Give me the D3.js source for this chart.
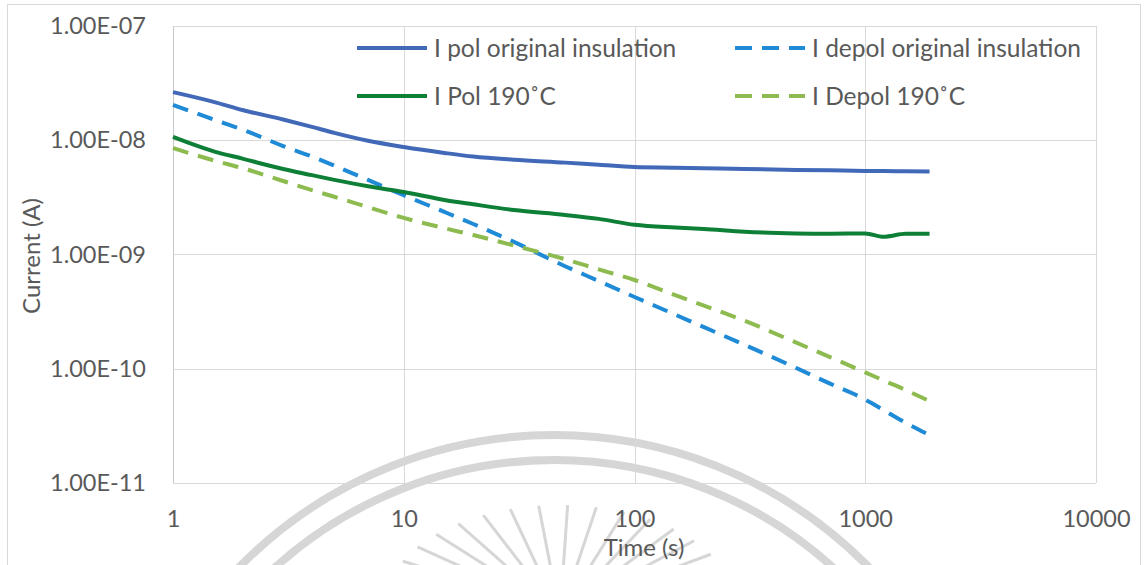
<!DOCTYPE html>
<html>
<head>
<meta charset="utf-8">
<script src="https://cdn.jsdelivr.net/npm/d3@7"></script>
<style>
  html, body { margin: 0; padding: 0; background: #fff; }
  svg { display: block; }
</style>
</head>
<body>
<div id="chart"></div>
<script>
// time axis (s) shared by all four series
const times = [1, 1.5, 2, 3, 4, 5, 7, 10, 15, 20, 30, 50, 70, 100, 150, 200, 300, 500, 700, 1000, 1200, 1500, 1900];

const polOrig = [2.64e-8, 2.17e-8, 1.84e-8, 1.52e-8, 1.31e-8, 1.16e-8, 9.9e-9, 8.73e-9, 7.75e-9, 7.2e-9, 6.75e-9, 6.37e-9,
  6.1e-9, 5.83e-9, 5.75e-9, 5.68e-9, 5.6e-9, 5.5e-9, 5.45e-9, 5.38e-9, 5.37e-9, 5.35e-9, 5.33e-9];
const depolOrig = [2.04e-8, 1.52e-8, 1.24e-8, 8.9e-9, 7.2e-9, 6.0e-9, 4.5e-9, 3.3e-9, 2.36e-9, 1.85e-9, 1.29e-9, 7.9e-10,
  5.86e-10, 4.25e-10, 2.98e-10, 2.31e-10, 1.62e-10, 1.02e-10, 7.45e-11, 5.37e-11, 4.35e-11, 3.36e-11, 2.63e-11];
const polHT = [1.07e-8, 8.0e-9, 6.9e-9, 5.6e-9, 4.95e-9, 4.5e-9, 3.95e-9, 3.52e-9, 3.0e-9, 2.75e-9, 2.45e-9, 2.22e-9,
  2.05e-9, 1.82e-9, 1.72e-9, 1.67e-9, 1.58e-9, 1.53e-9, 1.52e-9, 1.53e-9, 1.43e-9, 1.52e-9, 1.52e-9];
const depolHT = [8.55e-9, 6.67e-9, 5.7e-9, 4.4e-9, 3.66e-9, 3.2e-9, 2.6e-9, 2.09e-9, 1.7e-9, 1.48e-9, 1.2e-9, 9.1e-10,
  7.4e-10, 5.98e-10, 4.42e-10, 3.57e-10, 2.63e-10, 1.7e-10, 1.27e-10, 9.3e-11, 7.9e-11, 6.5e-11, 5.2e-11];

const seriesNames = ['I pol original insulation', 'I depol original insulation', 'I Pol 190˚C', 'I Depol 190˚C'];

const xTicks = [1, 10, 100, 1000, 10000];
const xTickLabels = ['1', '10', '100', '1000', '10000'];
const yTicks = [1e-11, 1e-10, 1e-9, 1e-8, 1e-7];
const yTickLabels = ['1.00E-11', '1.00E-10', '1.00E-09', '1.00E-08', '1.00E-07'];

const W = 1145, H = 565;
const plot = { left: 173, right: 1096, top: 26, bottom: 483 };
const font = 'Lato, "Open Sans", sans-serif';
const textColor = '#595959';
const gridColor = '#d9d9d9';

const series = [
  { name: seriesNames[0], values: polOrig, color: '#4169b8', dash: null },
  { name: seriesNames[1], values: depolOrig, color: '#1f8ad6', dash: '16,10' },
  { name: seriesNames[2], values: polHT, color: '#0e7f36', dash: null },
  { name: seriesNames[3], values: depolHT, color: '#8dbb4f', dash: '16,10' }
];

const svg = d3.select('#chart').append('svg')
  .attr('width', W).attr('height', H)
  .style('font-family', font);

// outer chart frame
svg.append('rect')
  .attr('x', 7.5).attr('y', 4.5)
  .attr('width', 1133).attr('height', 620)
  .attr('fill', '#fff').attr('stroke', gridColor);

// faint background watermark (seal)
const wm = svg.append('g').attr('fill', 'none').attr('stroke', '#d6d6d6');
[[441, 8], [416, 8]].forEach(([r, w]) => {
  wm.append('circle').attr('cx', 554).attr('cy', 876).attr('r', r).attr('stroke-width', w);
});
// sun rays, fanned on an ellipse
d3.range(-154, -20, 9.5).forEach(a => {
  const t = a * Math.PI / 180;
  const c = Math.cos(t), s = Math.sin(t);
  wm.append('line')
    .attr('x1', 560 + 80 * c).attr('y1', 605 + 40 * s)
    .attr('x2', 560 + 175 * c).attr('y2', 605 + 100 * s)
    .attr('stroke-width', 3);
});

const x = d3.scaleLog().domain([1, 10000]).range([plot.left, plot.right]);
const y = d3.scaleLog().domain([1e-11, 1e-7]).range([plot.bottom, plot.top]);

// gridlines
const grid = svg.append('g').attr('stroke', gridColor).attr('stroke-width', 1);
grid.selectAll('.hgrid').data(yTicks).enter().append('line')
  .attr('x1', plot.left).attr('x2', plot.right)
  .attr('y1', d => Math.round(y(d)) + 0.5).attr('y2', d => Math.round(y(d)) + 0.5);
grid.selectAll('.vgrid').data(xTicks).enter().append('line')
  .attr('y1', plot.top).attr('y2', plot.bottom)
  .attr('x1', d => Math.round(x(d)) + 0.5).attr('x2', d => Math.round(x(d)) + 0.5)
  .attr('stroke', d => d === 1 ? '#c8c8c8' : gridColor);

// axes
const xAxis = d3.axisBottom(x).tickValues(xTicks)
  .tickFormat((d, i) => xTickLabels[i]).tickSize(0).tickPadding(27);
const yAxis = d3.axisLeft(y).tickValues(yTicks)
  .tickFormat((d, i) => yTickLabels[i]).tickSize(0).tickPadding(27);

const gX = svg.append('g').attr('transform', `translate(0, ${plot.bottom})`).call(xAxis);
const gY = svg.append('g').attr('transform', `translate(${plot.left}, 0)`).call(yAxis);
[gX, gY].forEach(g => {
  g.select('.domain').remove();
  g.selectAll('text').attr('fill', textColor).style('font-size', '23.5px').style('font-family', font);
});

svg.append('text')
  .attr('x', 644).attr('y', 556)
  .attr('text-anchor', 'middle')
  .attr('fill', textColor).style('font-size', '24px')
  .text('Time (s)');

svg.append('text')
  .attr('transform', 'translate(40, 256) rotate(-90)')
  .attr('text-anchor', 'middle')
  .attr('fill', textColor).style('font-size', '24px')
  .text('Current (A)');

// curves
const line = d3.line()
  .x(d => x(d[0]))
  .y(d => y(d[1]))
  .curve(d3.curveMonotoneX);

series.forEach(s => {
  svg.append('path')
    .datum(times.map((t, i) => [t, s.values[i]]))
    .attr('d', line)
    .attr('fill', 'none')
    .attr('stroke', s.color)
    .attr('stroke-width', 4)
    .attr('stroke-dasharray', s.dash);
});

// legend: 2 columns x 2 rows
const legendPos = [
  { lx: 357, ty: 48 },
  { lx: 735, ty: 48 },
  { lx: 357, ty: 96 },
  { lx: 735, ty: 96 }
];

series.forEach((s, i) => {
  const p = legendPos[i];
  const g = svg.append('g').attr('transform', `translate(${p.lx}, ${p.ty})`);
  g.append('line')
    .attr('x1', 0).attr('x2', 70)
    .attr('stroke', s.color).attr('stroke-width', 4)
    .attr('stroke-dasharray', s.dash ? '17,10' : null);
  g.append('text')
    .attr('x', 77).attr('y', 0).attr('dy', '0.36em')
    .attr('fill', textColor).style('font-size', '24.5px')
    .text(s.name);
});
</script>
</body>
</html>
